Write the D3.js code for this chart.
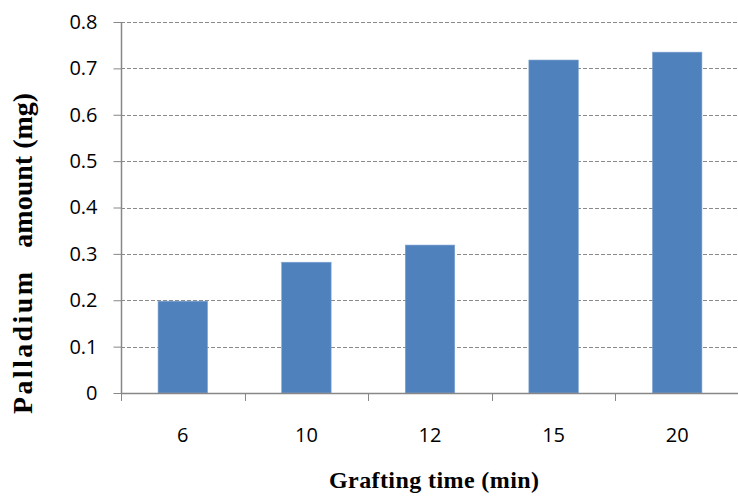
<!DOCTYPE html>
<html>
<head>
<meta charset="utf-8">
<script src="https://cdn.jsdelivr.net/npm/d3@7"></script>
<style>
  body { margin: 0; background: #fff; }
  svg { display: block; }
</style>
</head>
<body>
<svg id="chart" width="738" height="496"></svg>
<script>
// Palladium grafted vs. grafting time
const categories = ["6", "10", "12", "15", "20"];
const palladium = [0.198, 0.282, 0.319, 0.718, 0.735];
const yTicks = [0, 0.1, 0.2, 0.3, 0.4, 0.5, 0.6, 0.7, 0.8];
const xTitle = "Grafting time (min)";
const yTitleParts = ["Palladium", "amount (mg)"];

const svg = d3.select("#chart");
const plotLeft = 121, plotRight = 739, plotTop = 22, plotBottom = 393;

const x = d3.scaleBand().domain(categories).range([plotLeft, plotRight])
  .paddingInner(0.6).paddingOuter(0.3);
const y = d3.scaleLinear().domain([0, 0.8]).range([plotBottom, plotTop]);

const axisColor = "#878787";
const labelFont = "'Open Sans', 'Noto Sans', sans-serif";
const titleFont = "'Liberation Serif', 'Times New Roman', serif";

// dashed horizontal gridlines
svg.append("g").selectAll("line").data(yTicks.filter(d => d > 0)).join("line")
  .attr("x1", plotLeft).attr("x2", plotRight - 1)
  .attr("y1", d => Math.round(y(d)) + 0.5).attr("y2", d => Math.round(y(d)) + 0.5)
  .attr("stroke", "#8a8a8a").attr("stroke-width", 1)
  .attr("stroke-dasharray", "4,2");

// bars
svg.append("g").selectAll("rect").data(categories).join("rect")
  .attr("x", d => x(d))
  .attr("width", x.bandwidth())
  .attr("y", (d, i) => y(palladium[i]))
  .attr("height", (d, i) => y(0) - y(palladium[i]))
  .attr("fill", "#4f81bd")
  .attr("stroke", "#7ea3d3").attr("stroke-width", 0.6);

// y axis
const yAxis = d3.axisLeft(y).tickValues(yTicks).tickSize(8).tickPadding(16)
  .tickFormat(d => d === 0 ? "0" : d3.format(".1f")(d));
const gy = svg.append("g").attr("transform", `translate(${plotLeft + 0.5},0)`).call(yAxis);
gy.attr("font-size", 20).attr("font-family", labelFont);
gy.select(".domain").attr("stroke", axisColor).attr("stroke-width", 1.5).attr("d", `M0,${plotTop}V${plotBottom}`);
gy.selectAll(".tick line").attr("stroke", axisColor);
gy.selectAll(".tick text").attr("fill", "#000");

// x axis: category labels centred, tick marks at band boundaries
const gx = svg.append("g");
gx.append("line").attr("x1", plotLeft).attr("x2", plotRight)
  .attr("y1", plotBottom + 0.5).attr("y2", plotBottom + 0.5)
  .attr("stroke", axisColor).attr("stroke-width", 1.5);
const step = x.step();
const boundaries = d3.range(categories.length + 1).map(i => plotLeft + i * step);
gx.selectAll("line.tk").data(boundaries).join("line").attr("class", "tk")
  .attr("x1", d => Math.round(d) + 0.5).attr("x2", d => Math.round(d) + 0.5)
  .attr("y1", plotBottom).attr("y2", plotBottom + 8)
  .attr("stroke", axisColor);
gx.selectAll("text").data(categories).join("text")
  .attr("x", d => x(d) + x.bandwidth() / 2)
  .attr("y", 442)
  .attr("text-anchor", "middle")
  .attr("font-family", labelFont).attr("font-size", 20).attr("fill", "#000")
  .text(d => d);

// axis titles
svg.append("text").attr("x", 434).attr("y", 488).attr("text-anchor", "middle")
  .attr("font-family", titleFont)
  .attr("font-weight", "bold").attr("font-size", 24).attr("fill", "#000")
  .attr("textLength", 210).attr("lengthAdjust", "spacing")
  .text(xTitle);

const yt = svg.append("text")
  .attr("transform", "translate(32,414) rotate(-90)")
  .attr("font-family", titleFont)
  .attr("font-weight", "bold").attr("font-size", 28).attr("fill", "#000");
yt.append("tspan").attr("x", 0)
  .attr("textLength", 142).attr("lengthAdjust", "spacing")
  .text(yTitleParts[0]);
yt.append("tspan").attr("dx", 22).text(yTitleParts[1]);
</script>
</body>
</html>
